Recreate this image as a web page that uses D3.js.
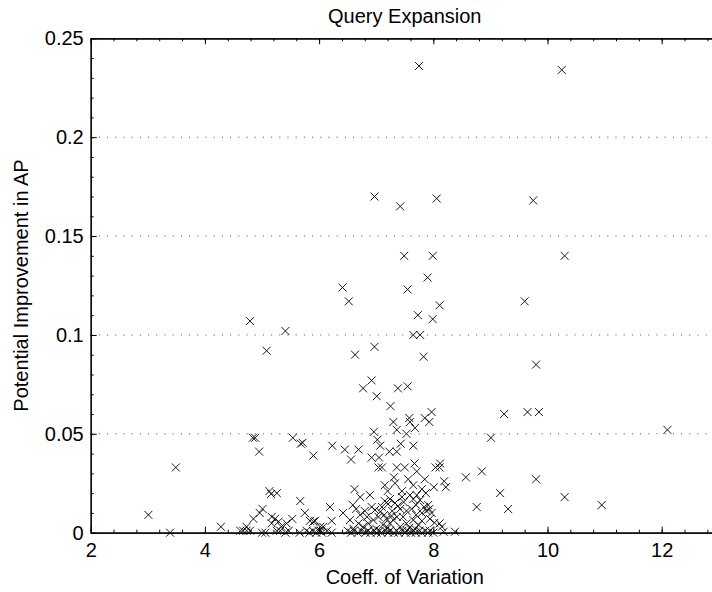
<!DOCTYPE html>
<html>
<head>
<meta charset="utf-8">
<script src="https://cdn.jsdelivr.net/npm/d3@7"></script>
<style>
  body { margin: 0; background: #fff; }
  svg { display: block; font-family: "Liberation Sans", Arial, Helvetica, sans-serif; }
</style>
</head>
<body>
<svg id="chart" width="712" height="592"></svg>
<script>
// chart values
var chartTitle = "Query Expansion";
var xTitle = "Coeff. of Variation";
var yTitle = "Potential Improvement in AP";
var xTicks = [2, 4, 6, 8, 10, 12];
var yTicks = [0, 0.05, 0.1, 0.15, 0.2, 0.25];

// one entry per query: coefficient of variation / potential gain in AP
var coeffVar = [
  7.75, 10.25,
  6.97, 7.42, 8.06, 9.75,
  7.49, 7.99, 10.3,
  7.90, 6.41, 7.55, 6.52, 8.11, 9.6,
  7.73, 7.99, 4.79, 5.41, 7.65, 7.77,
  5.08, 6.97, 6.63, 7.83, 9.8,
  6.92, 6.77, 7.01, 7.38, 7.55, 7.25,
  9.24, 9.65, 9.85, 7.97,
  7.85, 7.93, 7.58, 7.59, 7.30, 7.36, 7.68, 7.53, 6.96,
  12.1, 9.01,
  7.02, 7.07, 5.71, 6.23, 6.45, 6.69, 6.56, 5.90,
  7.23, 7.36, 7.43, 7.65, 6.92, 7.05,
  7.04, 7.10, 7.36, 7.50, 7.67, 7.71,
  8.12, 8.04, 8.11, 8.57, 8.85, 7.85, 8.19, 8.22,
  7.31, 7.33, 7.15, 8.01, 9.17, 9.31, 8.76,
  9.8, 10.3, 10.95,
  3.49, 3.01, 3.39, 4.28,
  4.84, 4.88, 4.95, 5.54, 5.68,
  5.13, 5.16, 5.26, 5.67,
  5.01, 4.96, 4.85, 4.73,
  5.17, 5.23, 5.29, 5.17, 5.53, 5.43, 5.34,
  5.75, 5.84, 5.90, 6.02, 5.93, 6.07, 6.19, 6.22,
  6.72, 6.89, 6.59, 6.42, 6.54,
  7.24, 7.15, 7.21, 7.10,
  7.59, 7.65, 7.71, 7.77, 7.87,
  7.91, 7.93, 7.97, 7.88,
  7.42, 7.53, 7.47,
  6.92, 6.98, 7.07, 7.04, 6.95, 6.86, 6.77,
  8.11, 8.15, 6.69, 6.72,
  7.24, 7.30, 7.36, 7.42, 7.53, 7.65, 7.74,
  8.38, 8.18,
  4.62, 4.67, 4.73, 4.79, 5.00, 5.06, 5.26, 5.32, 5.41, 5.47,
  5.66, 5.83, 5.89, 5.95, 6.03, 5.78, 5.99, 6.05, 6.14, 6.22,
  6.50, 6.56, 6.61, 6.68, 6.74, 6.81, 6.86, 6.90, 6.96, 7.01,
  7.06, 7.09, 7.16, 7.21, 7.24, 7.31, 7.36, 7.39, 7.46, 7.51,
  7.54, 7.61, 7.66, 7.69, 7.76, 7.80, 7.86, 7.91, 7.94, 8.00,
  7.00, 7.12, 7.18, 7.28, 7.33, 7.45, 7.62, 7.70, 7.80, 7.84,
  7.58, 7.68, 7.20, 6.84, 6.80, 7.38, 7.48, 7.70, 7.80, 7.94,
  8.02, 7.14, 7.27, 6.65, 6.60,
  6.62, 7.20, 7.45, 7.65, 7.80, 7.56
];
var apGain = [
  0.236, 0.234,
  0.170, 0.165, 0.169, 0.168,
  0.140, 0.140, 0.140,
  0.129, 0.124, 0.123, 0.117, 0.115, 0.117,
  0.110, 0.108, 0.107, 0.102, 0.100, 0.100,
  0.092, 0.094, 0.090, 0.089, 0.085,
  0.077, 0.073, 0.069, 0.073, 0.074, 0.064,
  0.060, 0.061, 0.061, 0.061,
  0.058, 0.056, 0.058, 0.056, 0.056, 0.052, 0.053, 0.050, 0.051,
  0.052, 0.048,
  0.047, 0.044, 0.0455, 0.044, 0.042, 0.042, 0.037, 0.039,
  0.041, 0.041, 0.045, 0.044, 0.038, 0.038,
  0.033, 0.033, 0.033, 0.033, 0.035, 0.031,
  0.035, 0.033, 0.033, 0.028, 0.031, 0.027, 0.026, 0.023,
  0.028, 0.025, 0.024, 0.023, 0.020, 0.012, 0.013,
  0.027, 0.018, 0.014,
  0.033, 0.009, 0.000, 0.003,
  0.048, 0.048, 0.041, 0.048, 0.045,
  0.021, 0.0196, 0.020, 0.016,
  0.012, 0.010, 0.007, 0.003,
  0.008, 0.007, 0.0056, 0.0047, 0.007, 0.0047, 0.003,
  0.010, 0.006, 0.0056, 0.003, 0.006, 0.003, 0.013, 0.006,
  0.018, 0.019, 0.014, 0.010, 0.0064,
  0.017, 0.016, 0.0145, 0.013,
  0.019, 0.017, 0.019, 0.0165, 0.020,
  0.014, 0.012, 0.010, 0.011,
  0.012, 0.011, 0.008,
  0.013, 0.0115, 0.0106, 0.008, 0.0064, 0.0047, 0.003,
  0.0047, 0.003, 0.0047, 0.009,
  0.0047, 0.0064, 0.008, 0.003, 0.0047, 0.0064, 0.0039,
  0.0005, 0.0005,
  0.001, 0.001, 0.001, 0.001, 0.000, 0.000, 0.001, 0.001, 0.000, 0.001,
  0.000, 0.000, 0.001, 0.000, 0.001, 0.001, 0.001, 0.000, 0.001, 0.000,
  0.001, 0.000, 0.001, 0.000, 0.001, 0.000, 0.001, 0.000, 0.001, 0.000,
  0.001, 0.000, 0.001, 0.000, 0.001, 0.000, 0.001, 0.000, 0.001, 0.000,
  0.001, 0.000, 0.001, 0.000, 0.001, 0.000, 0.001, 0.000, 0.001, 0.000,
  0.002, 0.004, 0.007, 0.011, 0.015, 0.018, 0.012, 0.009, 0.006, 0.013,
  0.0025, 0.002, 0.0025, 0.008, 0.011, 0.0135, 0.0155, 0.014, 0.010, 0.007,
  0.005, 0.009, 0.0085, 0.012, 0.002,
  0.022, 0.021, 0.021, 0.024, 0.022, 0.027
];

var W = 712, H = 592;
var pLeft = 90.7, pRight = 718.8, pTop = 38.3, pBottom = 532.7;
var fontPx = 20;

var svg = d3.select('#chart');
svg.append('rect').attr('width', W).attr('height', H).attr('fill', '#fff');

var x = d3.scaleLinear().domain([2, 13]).range([pLeft, pRight]);
var y = d3.scaleLinear().domain([0, 0.25]).range([pBottom, pTop]);

var fmt = d3.format('~g');

// dotted grid on the major y ticks
svg.append('g').selectAll('line')
    .data(yTicks.filter(function(d){ return d > 0 && d < 0.25; }))
    .enter().append('line')
    .attr('x1', pLeft).attr('x2', pRight)
    .attr('y1', function(d){ return y(d); })
    .attr('y2', function(d){ return y(d); })
    .attr('stroke', '#444')
    .attr('stroke-width', 1)
    .attr('stroke-dasharray', '1,7.2');

// minor ticks (5 per major step, like matlab)
var xMinor = d3.range(0, 28).map(function(i){ return 2 + i * 0.4; }).filter(function(v){ return v <= 13; });
var yMinor = d3.range(0, 26).map(function(i){ return i * 0.01; });

function styleAxis(g){
    g.select('.domain').attr('stroke', '#000').attr('stroke-width', 1.2);
    g.selectAll('.tick line').attr('stroke', '#000').attr('stroke-width', 1);
    g.selectAll('.tick text').attr('fill', '#000').attr('font-size', fontPx);
}

// bottom
svg.append('g').attr('transform', 'translate(0,' + pBottom + ')')
    .call(d3.axisBottom(x).tickValues(xMinor).tickSizeInner(-3).tickSizeOuter(0).tickFormat(''))
    .call(styleAxis);
svg.append('g').attr('transform', 'translate(0,' + pBottom + ')')
    .call(d3.axisBottom(x).tickValues(xTicks).tickSizeInner(-6).tickSizeOuter(0).tickPadding(10).tickFormat(fmt))
    .call(styleAxis);
// top
svg.append('g').attr('transform', 'translate(0,' + pTop + ')')
    .call(d3.axisTop(x).tickValues(xMinor).tickSizeInner(-3).tickSizeOuter(0).tickFormat(''))
    .call(styleAxis);
svg.append('g').attr('transform', 'translate(0,' + pTop + ')')
    .call(d3.axisTop(x).tickValues(xTicks).tickSizeInner(-6).tickSizeOuter(0).tickFormat(''))
    .call(styleAxis);
// left
svg.append('g').attr('transform', 'translate(' + pLeft + ',0)')
    .call(d3.axisLeft(y).tickValues(yMinor).tickSizeInner(-3).tickSizeOuter(0).tickFormat(''))
    .call(styleAxis);
svg.append('g').attr('transform', 'translate(' + pLeft + ',0)')
    .call(d3.axisLeft(y).tickValues(yTicks).tickSizeInner(-6).tickSizeOuter(0).tickPadding(7).tickFormat(fmt))
    .call(styleAxis);

// x markers
var pts = coeffVar.map(function(v, i){ return { cv: v, ap: apGain[i] }; });
var s = 4;
svg.append('g').selectAll('path')
    .data(pts)
    .enter().append('path')
    .attr('transform', function(d){ return 'translate(' + x(d.cv) + ',' + y(d.ap) + ')'; })
    .attr('d', 'M' + (-s) + ',' + (-s) + 'L' + s + ',' + s + 'M' + (-s) + ',' + s + 'L' + s + ',' + (-s))
    .attr('stroke', '#000')
    .attr('stroke-width', 0.9)
    .attr('fill', 'none');

// labels
svg.append('text').attr('x', (pLeft + pRight) / 2).attr('y', 23)
    .attr('text-anchor', 'middle').attr('font-size', fontPx).text(chartTitle);
svg.append('text').attr('x', (pLeft + pRight) / 2).attr('y', 584)
    .attr('text-anchor', 'middle').attr('font-size', fontPx).text(xTitle);
svg.append('text').attr('transform', 'translate(28,' + ((pTop + pBottom) / 2) + ') rotate(-90)')
    .attr('text-anchor', 'middle').attr('font-size', fontPx).text(yTitle);
</script>
</body>
</html>
